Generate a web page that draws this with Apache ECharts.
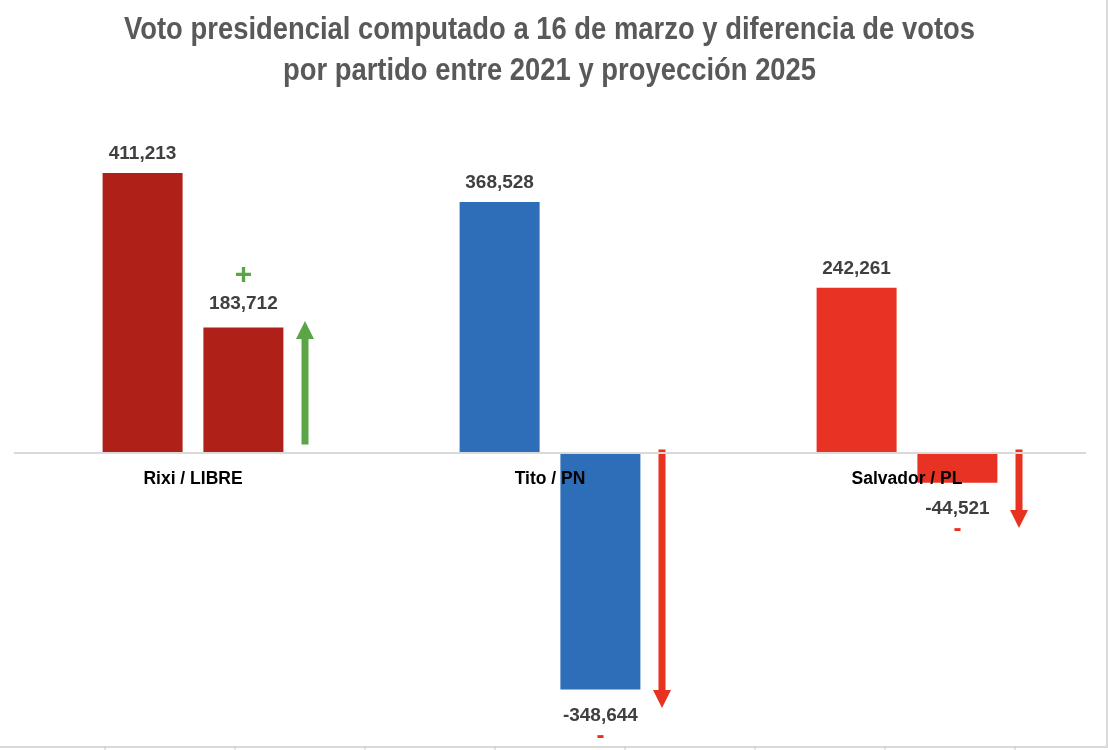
<!DOCTYPE html>
<html lang="es">
<head>
<meta charset="UTF-8">
<title>Voto presidencial</title>
<script src="https://cdnjs.cloudflare.com/ajax/libs/echarts/6.0.0/echarts.min.js"></script>
<style>
  html, body { margin: 0; padding: 0; background: #fff; }
  #chart { width: 1108px; height: 750px; }
</style>
</head>
<body>
<div id="chart"></div>
<script>
// datos
var categories = ['Rixi / LIBRE', 'Tito / PN', 'Salvador / PL'];
var votes2025 = [411213, 368528, 242261];
var voteDiff = [183712, -348644, -44521];
// hasta donde llega cada flecha (en votos, estimado)
var arrowTips = [193500, -376000, -111000];
var barColors = ['#AF2118', '#2E6DB8', '#E83223'];
var titleLines = [
  'Voto presidencial computado a 16 de marzo y diferencia de votos',
  'por partido entre 2021 y proyección 2025'
];

var sans = "'Liberation Sans', Arial, sans-serif";

function fmt(v) {
  return v.toLocaleString('en-US');
}

// el titulo original usa una letra estrecha: se comprime en horizontal
var titleFont = 'bold 31px ' + sans;
var ctx = document.createElement('canvas').getContext('2d');
ctx.font = titleFont;
var titleScale = 851 / ctx.measureText(titleLines[0]).width;

var chart = echarts.init(document.getElementById('chart'));

var labelRich = {
  num: { fontSize: 19, fontWeight: 'bold', color: '#404040', fontFamily: sans, lineHeight: 24 },
  plus: { fontSize: 30, fontWeight: 'bold', color: '#5AA545', fontFamily: sans, lineHeight: 32 },
  minus: { fontSize: 24, fontWeight: 'bold', color: '#E8321F', fontFamily: sans, lineHeight: 18 }
};

var diffData = voteDiff.map(function (v) {
  if (v >= 0) {
    return {
      value: v,
      label: { position: 'top', distance: 12, formatter: '{plus|+}\n{num|' + fmt(v) + '}', rich: labelRich }
    };
  }
  return {
    value: v,
    label: { position: 'bottom', distance: 14, formatter: '{num|' + fmt(v) + '}\n{minus|-}', rich: labelRich }
  };
});

var graphics = [
  { type: 'line', shape: { x1: 0, y1: 747, x2: 1108, y2: 747 }, style: { stroke: '#d9d9d9', lineWidth: 2 } },
  { type: 'line', shape: { x1: 1107, y1: 0, x2: 1107, y2: 748 }, style: { stroke: '#d9d9d9', lineWidth: 2 } }
];
for (var gx = 105; gx < 1100; gx += 130) {
  graphics.push({ type: 'line', shape: { x1: gx, y1: 746, x2: gx, y2: 750 }, style: { stroke: '#c8c8c8', lineWidth: 1 } });
}
titleLines.forEach(function (t, i) {
  graphics.push({
    type: 'text',
    x: 549.5,
    y: 30 + i * 41,
    scaleX: titleScale,
    style: { text: t, x: 0, y: 0, font: titleFont, fill: '#595959', align: 'center', verticalAlign: 'middle' }
  });
});

var options = {
  backgroundColor: '#fff',
  animation: false,
  grid: { left: 14.5, right: 22.5, top: 112.6, bottom: 12, containLabel: false, outerBoundsMode: 'none' },
  xAxis: {
    type: 'category',
    data: categories,
    position: 'bottom',
    offset: -285.5,
    z: 5,
    axisLine: { onZero: false, lineStyle: { color: '#d9d9d9', width: 2 } },
    axisTick: { show: false },
    axisLabel: {
      margin: 18,
      fontFamily: sans,
      fontWeight: 'bold',
      fontSize: 17.5,
      color: '#000'
    }
  },
  yAxis: {
    type: 'value',
    min: -420000,
    max: 500000,
    show: false,
    splitLine: { show: false }
  },
  series: [{
    name: 'Votos 2025',
    type: 'bar',
    barWidth: 80,
    barGap: '26%',
    data: votes2025,
    itemStyle: { color: function (p) { return barColors[p.dataIndex]; } },
    label: {
      show: true,
      position: 'top',
      distance: 10,
      formatter: function (p) { return fmt(p.value); },
      fontSize: 19,
      fontWeight: 'bold',
      color: '#404040',
      fontFamily: sans
    }
  }, {
    name: 'Diferencia',
    type: 'bar',
    barWidth: 80,
    data: diffData,
    itemStyle: { color: function (p) { return barColors[p.dataIndex]; } },
    label: { show: true }
  }, {
    name: 'Flechas',
    type: 'custom',
    z: 4,
    data: arrowTips.map(function (v, i) { return [i, v]; }),
    renderItem: function (params, api) {
      var base = api.coord([api.value(0), 0]);
      var tip = api.coord([api.value(0), api.value(1)]);
      var up = api.value(1) >= 0;
      var x = base[0] + 112;
      var y0 = up ? base[1] - 8 : base[1] - 3;
      var y1 = tip[1];
      var dir = up ? -1 : 1;
      var head = 18, half = 9, shaft = 3.5;
      var color = up ? '#5AA545' : '#E8321F';
      var neck = y1 - dir * head;
      return {
        type: 'polygon',
        shape: {
          points: [
            [x - shaft, y0], [x + shaft, y0], [x + shaft, neck], [x + half, neck],
            [x, y1], [x - half, neck], [x - shaft, neck]
          ]
        },
        style: { fill: color }
      };
    }
  }],
  graphic: graphics
};

chart.setOption(options);
</script>
</body>
</html>
